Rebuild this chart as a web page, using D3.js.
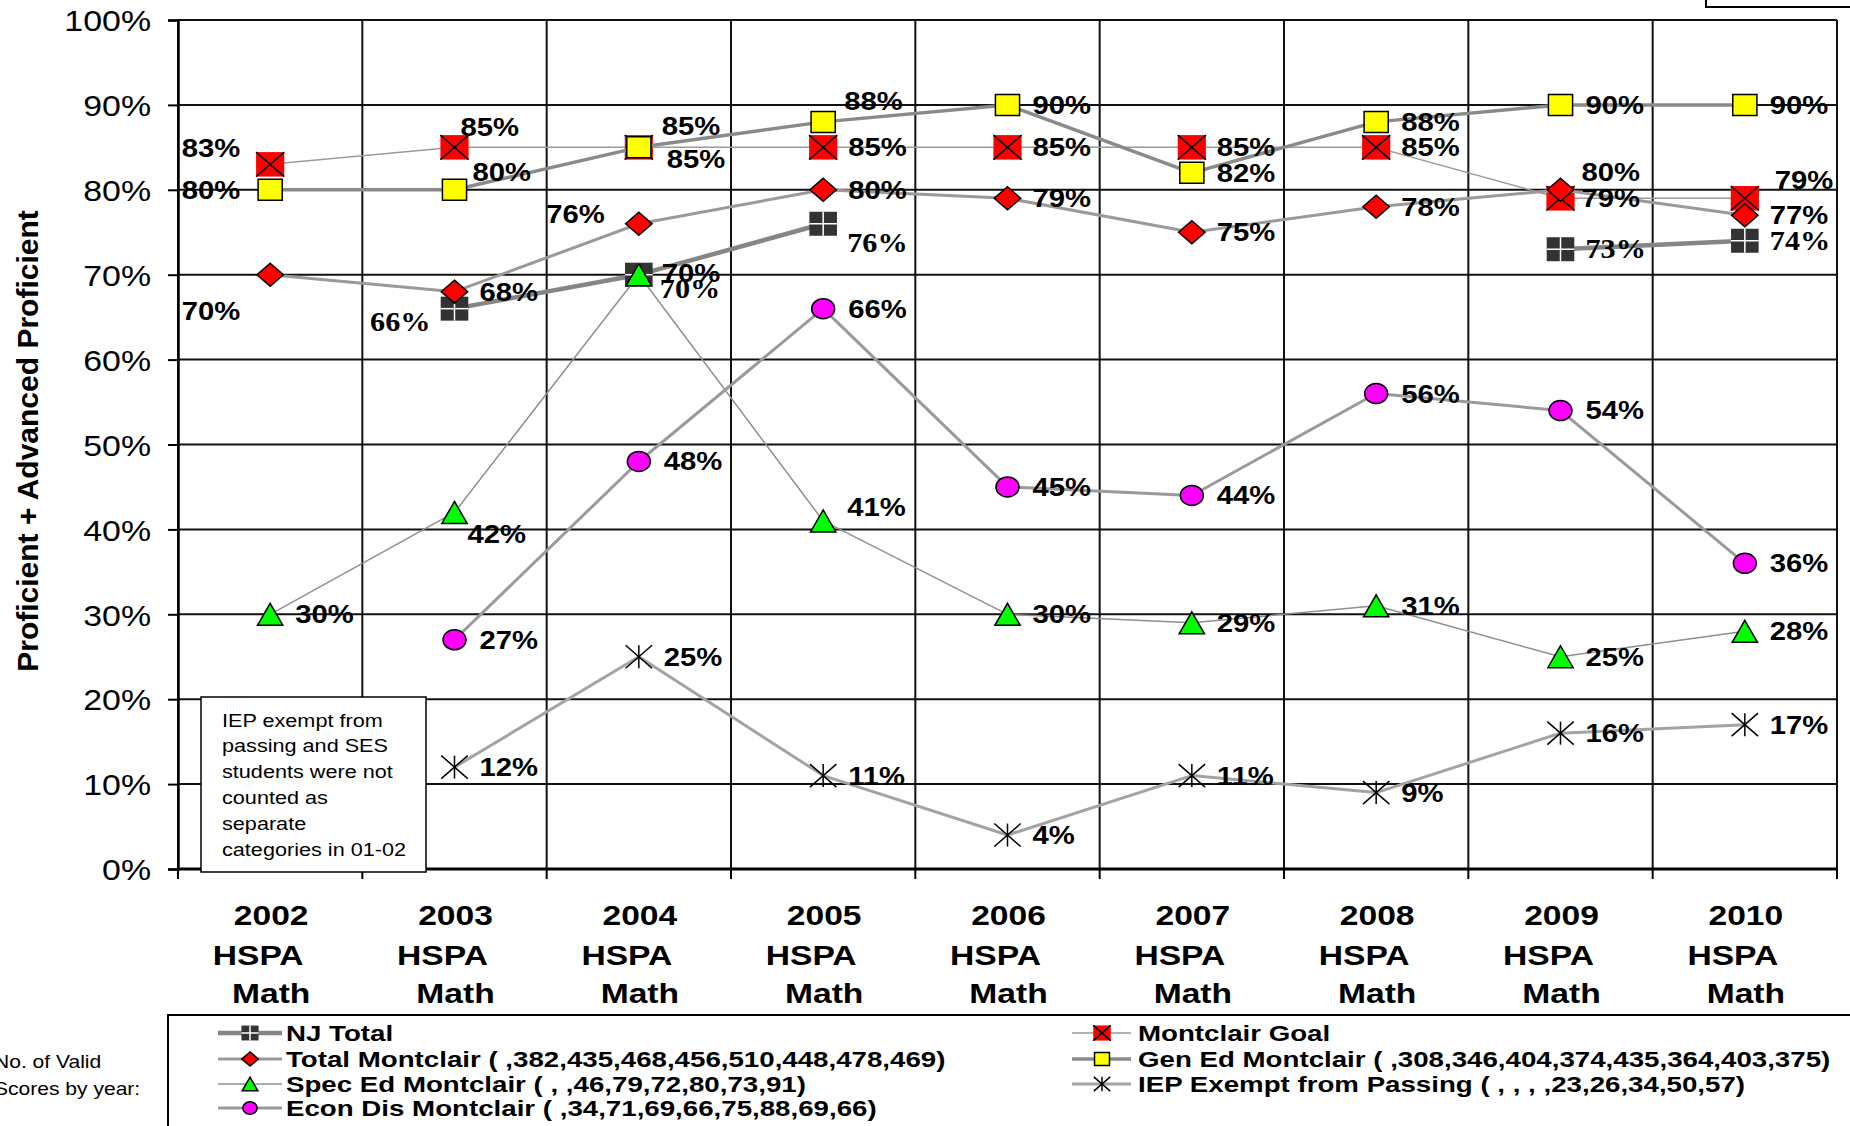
<!DOCTYPE html>
<html>
<head>
<meta charset="utf-8">
<script src="https://cdn.jsdelivr.net/npm/d3@7"></script>
<style>
  html, body { margin: 0; padding: 0; background: #fff; overflow: hidden; }
  svg { display: block; }
</style>
</head>
<body>
<svg id="chart" width="1850" height="1126"></svg>
<script>
// ---------------- DATA ----------------
const categories = ["2002", "2003", "2004", "2005", "2006", "2007", "2008", "2009", "2010"];
const categorySubLines = ["HSPA", "Math"];
const yTickValues = [0, 0.1, 0.2, 0.3, 0.4, 0.5, 0.6, 0.7, 0.8, 0.9, 1.0];

const njTotal        = [null, 0.66, 0.70, 0.76, null, null, null, 0.73, 0.74];
const montclairGoal  = [0.83, 0.85, 0.85, 0.85, 0.85, 0.85, 0.85, 0.79, 0.79];
const totalMontclair = [0.70, 0.68, 0.76, 0.80, 0.79, 0.75, 0.78, 0.80, 0.77];
const genEdMontclair = [0.80, 0.80, 0.85, 0.88, 0.90, 0.82, 0.88, 0.90, 0.90];
const specEdMontclair= [0.30, 0.42, 0.70, 0.41, 0.30, 0.29, 0.31, 0.25, 0.28];
const iepExempt      = [null, 0.12, 0.25, 0.11, 0.04, 0.11, 0.09, 0.16, 0.17];
const econDisMontclair=[null, 0.27, 0.48, 0.66, 0.45, 0.44, 0.56, 0.54, 0.36];

const legendNames = [
  "NJ Total",
  "Montclair Goal",
  "Total Montclair ( ,382,435,468,456,510,448,478,469)",
  "Gen Ed Montclair ( ,308,346,404,374,435,364,403,375)",
  "Spec Ed Montclair ( , ,46,79,72,80,73,91)",
  "IEP Exempt from Passing ( , , , ,23,26,34,50,57)",
  "Econ Dis Montclair ( ,34,71,69,66,75,88,69,66)"
];
const yAxisTitle = "Proficient + Advanced Proficient";
const noteLines = ["IEP exempt from", "passing and SES", "students were not", "counted as", "separate", "categories in 01-02"];
const sideNoteLines = ["No. of Valid", "Scores by year:"];

// ---------------- STYLE / LAYOUT ----------------
const SX = 1.17;          // horizontal stretch of the original artwork (text)
const MSX = 1.15;         // horizontal stretch of markers
const SANS = "'Liberation Sans', Arial, sans-serif";
const SERIF = "'Liberation Serif', 'Times New Roman', serif";

const svg = d3.select("#chart");
const plot = { left: 178, right: 1837, top: 20, bottom: 869 };

const x = d3.scaleBand().domain(categories).range([plot.left, plot.right]).padding(0);
const y = d3.scaleLinear().domain([0, 1]).range([plot.bottom, plot.top]);
const cx = c => x(c) + x.bandwidth() / 2;

function stext(parent, px, py, str, o) {
  const t = parent.append("text")
    .attr("transform", `translate(${px},${py}) scale(${o.sx || SX},1)`)
    .attr("text-anchor", o.anchor || "start")
    .attr("font-family", o.family || SANS)
    .attr("font-size", o.size)
    .attr("font-weight", o.weight || "normal")
    .attr("fill", o.fill || "#000")
    .text(str);
  return t;
}

// ---------- top-right partial box ----------
svg.append("rect").attr("x", 1706).attr("y", -10).attr("width", 200).attr("height", 17)
  .attr("fill", "#fff").attr("stroke", "#000").attr("stroke-width", 2);

// ---------- grid ----------
const grid = svg.append("g");
yTickValues.forEach(v => {
  grid.append("line").attr("x1", plot.left).attr("x2", plot.right)
    .attr("y1", y(v)).attr("y2", y(v)).attr("stroke", "#111").attr("stroke-width", 2);
});
const boundaries = categories.map(c => x(c)).concat([plot.right]);
boundaries.forEach(bx => {
  grid.append("line").attr("x1", bx).attr("x2", bx)
    .attr("y1", plot.top).attr("y2", plot.bottom).attr("stroke", "#111").attr("stroke-width", 2);
});

// ---------- y axis ----------
const yAxisG = svg.append("g").attr("transform", `translate(${plot.left},0)`)
  .call(d3.axisLeft(y).tickValues(yTickValues).tickFormat(d3.format(".0%")).tickSize(10).tickPadding(17));
yAxisG.select(".domain").attr("stroke", "#000").attr("stroke-width", 2.5);
yAxisG.selectAll(".tick line").attr("stroke", "#000").attr("stroke-width", 2);
yAxisG.selectAll(".tick text")
  .attr("font-family", SANS).attr("font-size", 30).attr("fill", "#000")
  .attr("x", -27 / 1.13).attr("dy", null).attr("y", 0).attr("dominant-baseline", null)
  .attr("transform", `scale(1.13,1) translate(0,${0.358 * 30})`);

// ---------- x axis ----------
const xAxisG = svg.append("g").attr("transform", `translate(0,${plot.bottom})`);
xAxisG.append("line").attr("x1", plot.left).attr("x2", plot.right).attr("y1", 0).attr("y2", 0)
  .attr("stroke", "#000").attr("stroke-width", 3);
boundaries.forEach(bx => {
  xAxisG.append("line").attr("x1", bx).attr("x2", bx).attr("y1", 0).attr("y2", 10)
    .attr("stroke", "#000").attr("stroke-width", 2);
});
categories.forEach(c => {
  const lines = [c].concat(categorySubLines);
  const ys = [915, 955, 993];
  const shifts = [1, -12, 1];
  lines.forEach((ln, i) => {
    stext(svg, cx(c) + shifts[i], ys[i] + 0.358 * 28, ln, { size: 28, weight: "bold", anchor: "middle", sx: 1.2 });
  });
});

// ---------- y axis title ----------
svg.append("text")
  .attr("transform", `translate(${27 + 0.358 * 30},441) rotate(-90)`)
  .attr("text-anchor", "middle").attr("font-family", SANS).attr("font-size", 30)
  .attr("font-weight", "bold").text(yAxisTitle);

// ---------- markers ----------
function drawMarker(g, type, px, py, k) {
  k = k || 1;
  const m = g.append("g").attr("transform", `translate(${px},${py}) scale(${MSX * k},${k})`);
  const nse = el => el.attr("vector-effect", "non-scaling-stroke");
  if (type === "nj") {
    const h = 24;
    m.append("rect").attr("x", -h / 2).attr("y", -h / 2).attr("width", h).attr("height", h).attr("fill", "#333");
    nse(m.append("line").attr("x1", 0).attr("x2", 0).attr("y1", -h / 2).attr("y2", h / 2).attr("stroke", "#fff").attr("stroke-width", 1.5));
    nse(m.append("line").attr("x1", -h / 2).attr("x2", h / 2).attr("y1", 0).attr("y2", 0).attr("stroke", "#fff").attr("stroke-width", 1.5));
  } else if (type === "goal") {
    const h = 24.5;
    m.append("rect").attr("x", -h / 2).attr("y", -h / 2).attr("width", h).attr("height", h).attr("fill", "#ff0000");
    nse(m.append("line").attr("x1", -h / 2).attr("y1", -h / 2).attr("x2", h / 2).attr("y2", h / 2).attr("stroke", "#000").attr("stroke-width", 1.5));
    nse(m.append("line").attr("x1", -h / 2).attr("y1", h / 2).attr("x2", h / 2).attr("y2", -h / 2).attr("stroke", "#000").attr("stroke-width", 1.5));
  } else if (type === "diamond") {
    const h = 23;
    nse(m.append("path").attr("d", `M0,${-h / 2}L${h / 2},0L0,${h / 2}L${-h / 2},0Z`)
      .attr("fill", "#ff0000").attr("stroke", "#000").attr("stroke-width", 1.5));
  } else if (type === "square") {
    const h = 21;
    nse(m.append("rect").attr("x", -h / 2).attr("y", -h / 2).attr("width", h).attr("height", h)
      .attr("fill", "#ffff00").attr("stroke", "#000").attr("stroke-width", 1.5));
  } else if (type === "triangle") {
    const h = 22;
    nse(m.append("path").attr("d", `M0,${-h / 2}L${h / 2},${h / 2}L${-h / 2},${h / 2}Z`)
      .attr("fill", "#00ff00").attr("stroke", "#000").attr("stroke-width", 1.5));
  } else if (type === "circle") {
    const h = 20;
    nse(m.append("circle").attr("r", h / 2).attr("fill", "#ff00ff").attr("stroke", "#000").attr("stroke-width", 1.5));
  } else if (type === "star") {
    const h = 23;
    [[-h / 2, -h / 2, h / 2, h / 2], [-h / 2, h / 2, h / 2, -h / 2], [0, -h / 2, 0, h / 2]].forEach(s => {
      nse(m.append("line").attr("x1", s[0]).attr("y1", s[1]).attr("x2", s[2]).attr("y2", s[3])
        .attr("stroke", "#000").attr("stroke-width", 1.5));
    });
  }
}

// series in Excel drawing order
const series = [
  { key: "nj",    values: njTotal,          marker: "nj",       line: "#858585", width: 4.5, serif: true },
  { key: "goal",  values: montclairGoal,    marker: "goal",     line: "#9a9a9a", width: 1.5 },
  { key: "total", values: totalMontclair,   marker: "diamond",  line: "#9a9a9a", width: 3 },
  { key: "gen",   values: genEdMontclair,   marker: "square",   line: "#8a8a8a", width: 3.5 },
  { key: "spec",  values: specEdMontclair,  marker: "triangle", line: "#8f8f8f", width: 1.5 },
  { key: "iep",   values: iepExempt,        marker: "star",     line: "#a3a3a3", width: 3 },
  { key: "econ",  values: econDisMontclair, marker: "circle",   line: "#9a9a9a", width: 3 }
];

// label placement (offsets from marker centre)
const labelPlacement = {
  nj:    { 1: { dx: -24, dy: 13, anchor: "end" }, 2: { dx: 21, dy: 14 }, 3: { dx: 24, dy: 19 } },
  goal:  { 0: { dx: -30, dy: -16, anchor: "end" }, 1: { dx: 6, dy: -20 }, 2: { dx: 28, dy: 12 }, 8: { dx: 30, dy: -18 }, 7: { dx: 21, dy: 0 } },
  total: { 0: { dx: -30, dy: 36, anchor: "end" }, 2: { dx: -34, dy: -10, anchor: "end" }, 7: { dx: 21, dy: -18 } },
  gen:   { 0: { dx: -30, dy: 0, anchor: "end" }, 1: { dx: 18, dy: -18 }, 2: { dx: 23, dy: -21 }, 3: { dx: 21, dy: -21 } },
  spec:  { 1: { dx: 13, dy: 22 }, 2: { dx: 23, dy: -2 }, 3: { dx: 24, dy: -14 } },
  iep:   {},
  econ:  {}
};

const seriesG = svg.append("g");
series.forEach(s => {
  const lineGen = d3.line()
    .defined(d => d != null)
    .x((d, i) => cx(categories[i]))
    .y(d => y(d));
  seriesG.append("path").datum(s.values).attr("d", lineGen)
    .attr("fill", "none").attr("stroke", s.line).attr("stroke-width", s.width)
    .attr("stroke-linejoin", "round");
  s.values.forEach((v, i) => {
    if (v == null) return;
    drawMarker(seriesG, s.marker, cx(categories[i]), y(v));
  });
});

// data labels
const labelG = svg.append("g");
const fmt = d3.format(".0%");
series.forEach(s => {
  s.values.forEach((v, i) => {
    if (v == null) return;
    const p = Object.assign({ dx: 25, dy: 0, anchor: "start" }, (labelPlacement[s.key] || {})[i] || {});
    const size = s.serif ? 27 : 25;
    const base = s.serif ? 0.33 * size : 0.358 * size;
    stext(labelG, cx(categories[i]) + p.dx, y(v) + p.dy + base, fmt(v), {
      size: size, weight: "bold", anchor: p.anchor, family: s.serif ? SERIF : SANS, sx: s.serif ? 1.12 : SX
    });
  });
});

// ---------- note box ----------
svg.append("rect").attr("x", 201).attr("y", 697).attr("width", 225).attr("height", 175)
  .attr("fill", "#fff").attr("stroke", "#000").attr("stroke-width", 1.5);
noteLines.forEach((ln, i) => {
  stext(svg, 222, 720 + i * 25.8 + 0.358 * 18.5, ln, { size: 18.5 });
});

// ---------- legend ----------
const lg = svg.append("g");
lg.append("rect").attr("x", 168).attr("y", 1015).attr("width", 1800).attr("height", 300)
  .attr("fill", "#fff").attr("stroke", "#000").attr("stroke-width", 2);
const legendPos = [
  { x0: 218, x1: 282, mx: 250, tx: 286, y: 1033 },
  { x0: 1072, x1: 1131, mx: 1102, tx: 1138, y: 1033 },
  { x0: 218, x1: 282, mx: 250, tx: 286, y: 1059 },
  { x0: 1072, x1: 1131, mx: 1102, tx: 1138, y: 1059 },
  { x0: 218, x1: 282, mx: 250, tx: 286, y: 1084 },
  { x0: 1072, x1: 1131, mx: 1102, tx: 1138, y: 1084 },
  { x0: 218, x1: 282, mx: 250, tx: 286, y: 1108 }
];
series.forEach((s, i) => {
  const p = legendPos[i];
  lg.append("line").attr("x1", p.x0).attr("x2", p.x1).attr("y1", p.y).attr("y2", p.y)
    .attr("stroke", s.line).attr("stroke-width", s.width);
  drawMarker(lg, s.marker, p.mx, p.y, 0.62);
  stext(lg, p.tx, p.y + 0.358 * 22.5, legendNames[i], { size: 22.5, weight: "bold", sx: 1.23 });
});

sideNoteLines.forEach((ln, i) => {
  stext(svg, -6, [1062, 1089][i] + 0.358 * 18, ln, { size: 18 });
});
</script>
</body>
</html>
